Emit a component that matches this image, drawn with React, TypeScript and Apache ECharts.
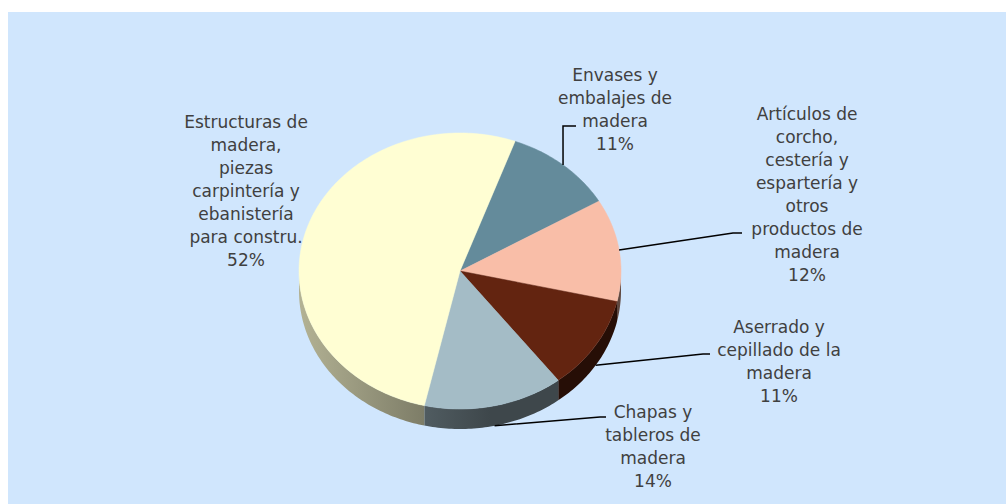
import React, { useEffect, useRef } from "react";
import * as echarts from "echarts";

// ---- data ----
const categories = [
  "Envases y\nembalajes de\nmadera",
  "Artículos de\ncorcho,\ncestería y\nespartería y\notros\nproductos de\nmadera",
  "Aserrado y\ncepillado de la\nmadera",
  "Chapas y\ntableros de\nmadera",
  "Estructuras de\nmadera,\npiezas\ncarpintería y\nebanistería\npara constru.",
];
const values = [11, 12, 11, 14, 52];

// ---- styles / layout ----
const colors = ["#648B9B", "#F9BEA8", "#632410", "#A4BCC6", "#FFFED3"];
const START_ANGLE = 20; // degrees clockwise from 12 o'clock
const DEPTH = 20; // px thickness of the 3D pie
const FONT = "17px 'DejaVu Sans'";
const LINE_H = 23;
// label layout in chart px: text centre x, first line centre y, leader bend + end
const labelX = [607, 799, 771, 645, 238];
const labelY = [63, 102, 315, 400, 110];
const leaderBend: (number[] | null)[] = [[555, 114], [725, 221], [695, 342], [592, 405], null];
const leaderEnd: (number[] | null)[] = [[568, 114], [734, 221], [702, 342], [598, 405], null];

const total = values.reduce((a, b) => a + b, 0);
const spans = values.map((v) => (v / total) * 360);
const starts: number[] = [];
{
  let acc = START_ANGLE;
  spans.forEach((s) => {
    starts.push(acc);
    acc += s;
  });
}
const percents = values.map((v) => Math.round((v / total) * 100) + "%");

const rad = (d: number) => (d * Math.PI) / 180;

function shade(hex: string, f: number) {
  const n = parseInt(hex.slice(1), 16);
  const r = Math.round(((n >> 16) & 255) * f);
  const g = Math.round(((n >> 8) & 255) * f);
  const b = Math.round((n & 255) * f);
  return `rgb(${r},${g},${b})`;
}

function arcPts(api: any, a0: number, a1: number, dy = 0) {
  const pts: number[][] = [];
  const steps = Math.max(2, Math.ceil((a1 - a0) / 1));
  for (let k = 0; k <= steps; k++) {
    const a = rad(a0 + ((a1 - a0) * k) / steps);
    const p = api.coord([Math.sin(a), Math.cos(a)]);
    pts.push([p[0], p[1] + dy]);
  }
  return pts;
}

export default function App() {
  const ref = useRef<HTMLDivElement>(null);
  useEffect(() => {
    if (!ref.current) return;
    const chart = echarts.init(ref.current, undefined, { renderer: "svg" });
    const seriesData = values.map((v, i) => ({ value: [0, 0, i], name: categories[i] }));

    const sideRender = (params: any, api: any) => {
      const i = params.dataIndex;
      const a0 = starts[i];
      const a1 = starts[i] + spans[i];
      const children: any[] = [];
      const left = api.coord([-1, 0])[0];
      const cx = api.coord([0, 0])[0];
      [[90, 270], [450, 630]].forEach(([lo, hi]) => {
        const s = Math.max(a0, lo);
        const e = Math.min(a1, hi);
        if (e > s) {
          const top = arcPts(api, s, e);
          const bot = arcPts(api, s, e, DEPTH).reverse();
          children.push({
            type: "polygon",
            shape: { points: top.concat(bot) },
            style: {
              fill: new echarts.graphic.LinearGradient(
                left, 0, cx + 30, 0,
                [
                  { offset: 0, color: shade(colors[i], 0.7) },
                  { offset: 1, color: shade(colors[i], 0.38) },
                ],
                true
              ),
              stroke: "none",
            },
          });
        }
      });
      return { type: "group", children };
    };

    const topRender = (params: any, api: any) => {
      const i = params.dataIndex;
      const a0 = starts[i];
      const a1 = starts[i] + spans[i];
      const c = api.coord([0, 0]);
      const pts = [c].concat(arcPts(api, a0, a1));
      return {
        type: "polygon",
        shape: { points: pts },
        style: { fill: colors[i], stroke: colors[i], lineWidth: 0.5 },
      };
    };

    const labelRender = (params: any, api: any) => {
      const i = params.dataIndex;
      const mid = starts[i] + spans[i] / 2;
      const a = rad(mid);
      const p = api.coord([Math.sin(a), Math.cos(a)]);
      const front = Math.cos(a) < 0;
      const anchor = [p[0], p[1] + (front ? DEPTH : 0)];
      const children: any[] = [];
      if (leaderBend[i] && leaderEnd[i]) {
        children.push({
          type: "polyline",
          shape: { points: [anchor, leaderBend[i], leaderEnd[i]] },
          style: { stroke: "#000000", lineWidth: 1.5, fill: "none" },
        });
      }
      children.push({
        type: "text",
        x: labelX[i],
        y: labelY[i] - LINE_H / 2,
        style: {
          text: categories[i] + "\n" + percents[i],
          font: FONT,
          fill: "#404040",
          align: "center",
          verticalAlign: "top",
          lineHeight: LINE_H,
        },
      });
      return { type: "group", children };
    };

    chart.setOption({
      animation: false,
      backgroundColor: "#D0E6FD",
      grid: { left: 291, top: 121, width: 322, height: 276 },
      xAxis: { type: "value", min: -1, max: 1, show: false },
      yAxis: { type: "value", min: -1, max: 1, show: false },
      series: [
        { type: "custom", z: 1, renderItem: sideRender, data: seriesData, silent: true },
        { type: "custom", z: 2, renderItem: topRender, data: seriesData, silent: true },
        { type: "custom", z: 3, renderItem: labelRender, data: seriesData, silent: true, clip: false },
      ],
    });
    return () => chart.dispose();
  }, []);
  return (
    <div
      ref={ref}
      style={{ position: "fixed", left: 8, top: 12, width: 998, height: 492 }}
    />
  );
}
